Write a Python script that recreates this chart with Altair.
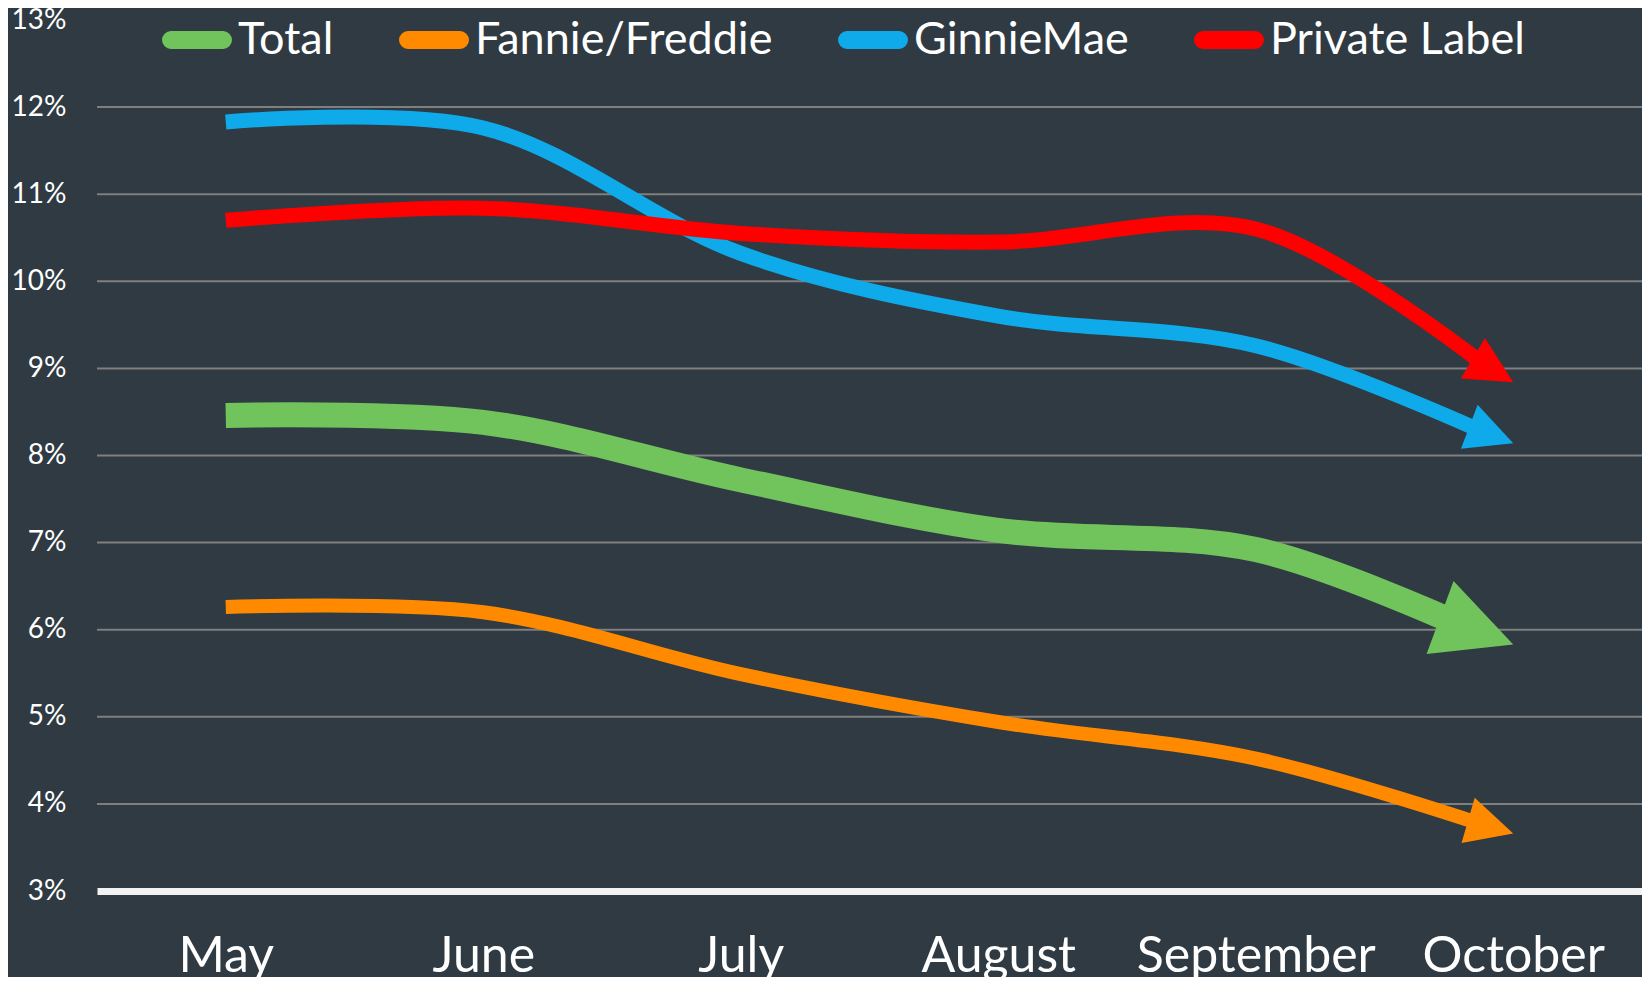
import math
import altair as alt
import pandas as pd

# ---- data ----
months = ["May", "June", "July", "August", "September", "October"]
series = ["Total", "Fannie/Freddie", "GinnieMae", "Private Label"]
total = [8.46, 8.38, 7.72, 7.14, 6.92, 5.83]
fannie = [6.26, 6.20, 5.49, 4.94, 4.52, 3.66]
ginnie = [11.83, 11.76, 10.32, 9.60, 9.26, 8.14]
private = [10.70, 10.84, 10.55, 10.45, 10.60, 8.84]
y_ticks = [3, 4, 5, 6, 7, 8, 9, 10, 11, 12, 13]
grid_values = [4, 5, 6, 7, 8, 9, 10, 11, 12]

# ---- styles ----
colors = ["#71c35c", "#ff8a00", "#0eaae9", "#ff0000"]
line_widths = [25, 14, 15, 15]
arrow_len = [78, 47, 47, 47]
BG = "#2f3a42"
FONT = "Lato"
W, H = 1545, 871
Y0, Y1 = 3, 13
step_px = W / len(months)
px_per_unit = H / (Y1 - Y0)

values = [total, fannie, ginnie, private]

line_rows, arrow_rows = [], []
for name, vals, lw, al in zip(series, values, line_widths, arrow_len):
    n = len(vals)
    dx = step_px
    dy = (vals[-2] - vals[-1]) * px_per_unit
    ang = math.atan2(dy, dx)
    for i, v in enumerate(vals[:-1]):
        line_rows.append({"series": name, "x": i, "y": v, "sw": lw})
    # line stops inside the arrowhead
    back = 0.7 * al
    line_rows.append({"series": name,
                      "x": (n - 1) - back * math.cos(ang) / step_px,
                      "y": vals[-1] + back * math.sin(ang) / px_per_unit,
                      "sw": lw})
    arrow_rows.append({"series": name, "x": n - 1, "y": vals[-1],
                       "angle": math.degrees(ang) % 360, "size": al * al})

lines_df = pd.DataFrame(line_rows)
arrows_df = pd.DataFrame(arrow_rows)
grid_df = pd.DataFrame({"y": grid_values})

label_expr = "[" + ",".join("'%s'" % m for m in months) + "][datum.value]"

x_scale = alt.Scale(domain=[-0.5, len(months) - 0.5], nice=False, zero=False)
y_scale = alt.Scale(domain=[Y0, Y1], nice=False, zero=False)
color_scale = alt.Scale(domain=series, range=colors)

x_axis = alt.Axis(values=list(range(len(months))), labelExpr=label_expr,
                  labelFont=FONT, labelFontSize=50, labelColor="#ffffff",
                  labelBaseline="alphabetic", labelPadding=80, labelLimit=1000,
                  labelOverlap=False, ticks=False, tickSize=0, grid=False,
                  domain=True, domainColor="#f2f2f2", domainWidth=7)
y_axis = alt.Axis(values=y_ticks, labelExpr="datum.value + '%'",
                  labelFont=FONT, labelFontSize=28, labelColor="#ffffff",
                  labelPadding=31, labelOverlap=False, ticks=False, tickSize=0,
                  domain=False, grid=False)

pill = ("M -0.743 -0.114 L 0.743 -0.114 A 0.114 0.114 0 0 1 0.743 0.114 "
        "L -0.743 0.114 A 0.114 0.114 0 0 1 -0.743 -0.114 Z")

grid = alt.Chart(grid_df).mark_rule(color="#7f7f7f", strokeWidth=2).encode(
    y=alt.Y("y:Q", scale=y_scale, axis=y_axis, title=None)
)

lines = alt.Chart(lines_df).mark_line(
    interpolate="catmull-rom", strokeCap="butt", strokeJoin="round"
).encode(
    x=alt.X("x:Q", scale=x_scale, title=None, axis=x_axis),
    y=alt.Y("y:Q", scale=y_scale, title=None, axis=y_axis),
    color=alt.Color("series:N", scale=color_scale, sort=series,
                    legend=alt.Legend(orient="none", legendX=60, legendY=-20,
                                      direction="horizontal", columns=4, title=None,
                                      symbolType=pill, symbolSize=4900,
                                      symbolStrokeWidth=10, labelFont=FONT,
                                      labelFontSize=45, labelColor="#ffffff",
                                      labelLimit=1000, labelOffset=1,
                                      columnPadding=50)),
    strokeWidth=alt.StrokeWidth("sw:Q", scale=None),
    detail="series:N",
)

arrows = alt.Chart(arrows_df).mark_point(
    shape="M 0 0 L -2 -1 L -2 1 Z", filled=True, opacity=1, strokeWidth=0
).encode(
    x=alt.X("x:Q", scale=x_scale, title=None, axis=x_axis),
    y=alt.Y("y:Q", scale=y_scale, title=None, axis=y_axis),
    fill=alt.Fill("series:N", scale=color_scale, legend=None),
    angle=alt.Angle("angle:Q", scale=None),
    size=alt.Size("size:Q", scale=None),
)

chart = alt.layer(grid, lines, arrows).properties(
    width=W, height=H,
    autosize=alt.AutoSizeParams(type="none"),
    padding={"left": 89, "top": 12, "right": 0, "bottom": 86},
    background=BG,
).configure_view(stroke=None)

chart.save("out.html", embed_options={"renderer": "svg", "actions": False})
